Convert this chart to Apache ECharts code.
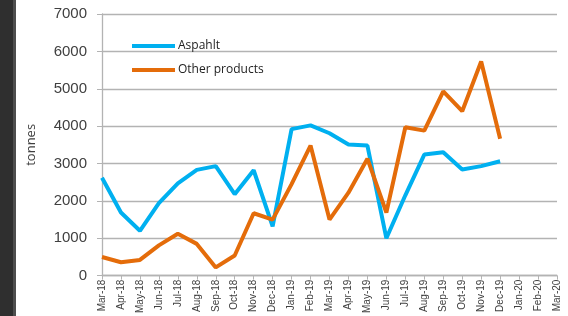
<!DOCTYPE html>
<html>
<head>
<meta charset="utf-8">
<script src="https://cdn.jsdelivr.net/npm/echarts@6/dist/echarts.min.js"></script>
<style>
  html, body { margin: 0; padding: 0; background: #fff; }
  #chart { width: 568px; height: 316px; }
</style>
</head>
<body>
<div id="chart"></div>
<script>
// months on the x axis, Mar-18 .. Mar-20
const months = ['Mar-18', 'Apr-18', 'May-18', 'Jun-18', 'Jul-18', 'Aug-18', 'Sep-18', 'Oct-18',
  'Nov-18', 'Dec-18', 'Jan-19', 'Feb-19', 'Mar-19', 'Apr-19', 'May-19', 'Jun-19', 'Jul-19',
  'Aug-19', 'Sep-19', 'Oct-19', 'Nov-19', 'Dec-19', 'Jan-20', 'Feb-20', 'Mar-20']

// tonnes, Mar-18 .. Dec-19
const asphalt = [2620, 1690, 1200, 1940, 2470, 2830, 2930, 2180, 2820, 1320, 3920,
  4020, 3810, 3510, 3480, 1000, 2150, 3240, 3300, 2840, 2930, 3060]
const otherProducts = [500, 360, 420, 810, 1120, 850, 220, 540, 1670, 1500, 2450,
  3480, 1500, 2220, 3130, 1690, 3970, 3880, 4930, 4400, 5730, 3660]

const yTicks = { min: 0, max: 7000, interval: 1000 }

let myChart = echarts.init(document.getElementById('chart'))

const gridColor = '#b3b3b3'
const textColor = '#404040'

let option = {
  animation: false,
  textStyle: { fontFamily: 'Liberation Sans' },
  graphic: [
    { type: 'rect', shape: { x: 0, y: 0, width: 13, height: 316 }, style: { fill: '#2f2f2f' } },
    { type: 'rect', shape: { x: 13, y: 0, width: 3, height: 316 }, style: { fill: '#4e4e4e' } }
  ],
  legend: {
    orient: 'vertical',
    left: 127,
    top: 34,
    icon: 'rect',
    itemWidth: 43,
    itemHeight: 4,
    itemGap: 10,
    textStyle: { color: '#222', fontSize: 12, lineHeight: 14, fontFamily: 'Open Sans', padding: [0, 0, 0, -2] },
    data: ['Aspahlt', 'Other products']
  },
  grid: {
    left: 102,
    right: 11,
    top: 14,
    bottom: 39,
    containLabel: false
  },
  xAxis: {
    type: 'category',
    boundaryGap: false,
    data: months,
    axisLine: { lineStyle: { color: gridColor, width: 1.3 } },
    axisTick: { show: true, alignWithLabel: true, interval: 0, length: 4, lineStyle: { color: gridColor } },
    axisLabel: { interval: 0, rotate: 90, fontSize: 10, color: textColor, margin: 4 }
  },
  yAxis: {
    type: 'value',
    min: yTicks.min,
    max: yTicks.max,
    interval: yTicks.interval,
    name: 'tonnes',
    nameLocation: 'middle',
    nameGap: 64,
    nameRotate: 90,
    nameTextStyle: { fontSize: 13, color: textColor, fontFamily: 'Open Sans' },
    axisLine: { show: true, lineStyle: { color: gridColor, width: 1.3 } },
    axisTick: { show: true, length: 5, lineStyle: { color: gridColor } },
    axisLabel: { fontSize: 15, color: textColor, margin: 15, formatter: (v) => String(v) },
    splitLine: { lineStyle: { color: gridColor, width: 1.3 } }
  },
  series: [
    {
      name: 'Aspahlt',
      type: 'line',
      data: asphalt,
      symbol: 'none',
      color: '#00b0f0',
      lineStyle: { width: 4, color: '#00b0f0' }
    },
    {
      name: 'Other products',
      type: 'line',
      data: otherProducts,
      symbol: 'none',
      color: '#e46c0a',
      lineStyle: { width: 4, color: '#e46c0a' }
    }
  ]
}

myChart.setOption(option)
</script>
</body>
</html>
